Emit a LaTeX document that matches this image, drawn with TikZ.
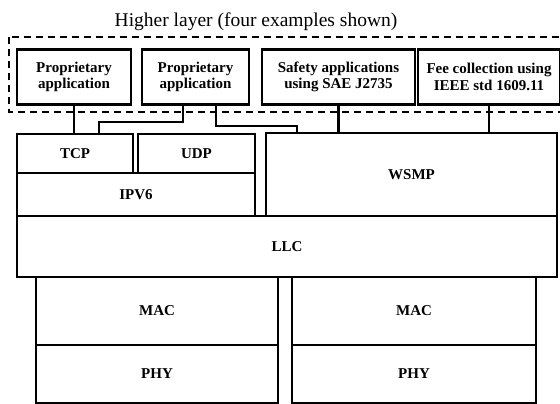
\documentclass[tikz,border=0pt]{standalone}
\usepackage{fontspec}
\setmainfont{Liberation Serif}
\usetikzlibrary{positioning}

\begin{document}
\begin{tikzpicture}[x=1pt,y=-1pt,
  app/.style={draw,line width=2.8pt,inner sep=0pt,align=center,
    font=\fontsize{15}{16.5}\selectfont\bfseries},
  layer/.style={draw,line width=2.4pt,inner sep=0pt,
    font=\fontsize{15}{17}\selectfont\bfseries},
  link/.style={line width=2.2pt}]

  \useasboundingbox (0,0) rectangle (560,404);

  \node (title) at (256,22) {\fontsize{19.5}{21}\selectfont Higher layer (four examples shown)};
  \draw[line width=2.2pt,dash pattern=on 7pt off 5pt] (9,37) rectangle (575,112);

  \node[app,minimum width=114pt,minimum height=55pt] (a1) at (74,77) {Proprietary\\application};
  \node[app,minimum width=107pt,minimum height=55pt] (a2) at (195.5,77) {Proprietary\\application};
  \node[app,minimum width=153pt,minimum height=55pt] (a3) at (338.5,77) {Safety applications\\using SAE J2735};
  \node[app,minimum width=142pt,minimum height=55pt] (a4) at (489,77) {Fee collection using\\IEEE std 1609.11};

  \node[layer,minimum width=116pt,minimum height=39pt] (tcp) at (75,153.5) {TCP};
  \node[layer,minimum width=117pt,minimum height=39pt] (udp) at (196.5,153.5) {UDP};
  \node[layer,minimum width=238pt,minimum height=43pt] (ipv6) at (136,194.5) {IPV6};
  \node[layer,minimum width=291pt,minimum height=83pt] (wsmp) at (411.5,174.5) {WSMP};
  \node[layer,minimum width=540pt,minimum height=61pt] (llc) at (287,246.5) {LLC};
  \node[layer,minimum width=242pt,minimum height=68pt] (mac1) at (157,311) {MAC};
  \node[layer,minimum width=242pt,minimum height=58pt] (phy1) at (157,374) {PHY};
  \node[layer,minimum width=244pt,minimum height=68pt] (mac2) at (414,311) {MAC};
  \node[layer,minimum width=244pt,minimum height=58pt] (phy2) at (414,374) {PHY};

  \draw[link] (a1.south) -- (a1.south |- tcp.north);
  \draw[link] ([xshift=-12.5pt]a2.south) -- ++(0,16) -| ([xshift=24pt]tcp.north);
  \draw[link] ([xshift=20.5pt]a2.south) -- ++(0,20) -| ([xshift=-114.5pt]wsmp.north);
  \draw[link] (a3.south) -- (a3.south |- wsmp.north);
  \draw[link] (a4.south) -- (a4.south |- wsmp.north);
\end{tikzpicture}
\end{document}
